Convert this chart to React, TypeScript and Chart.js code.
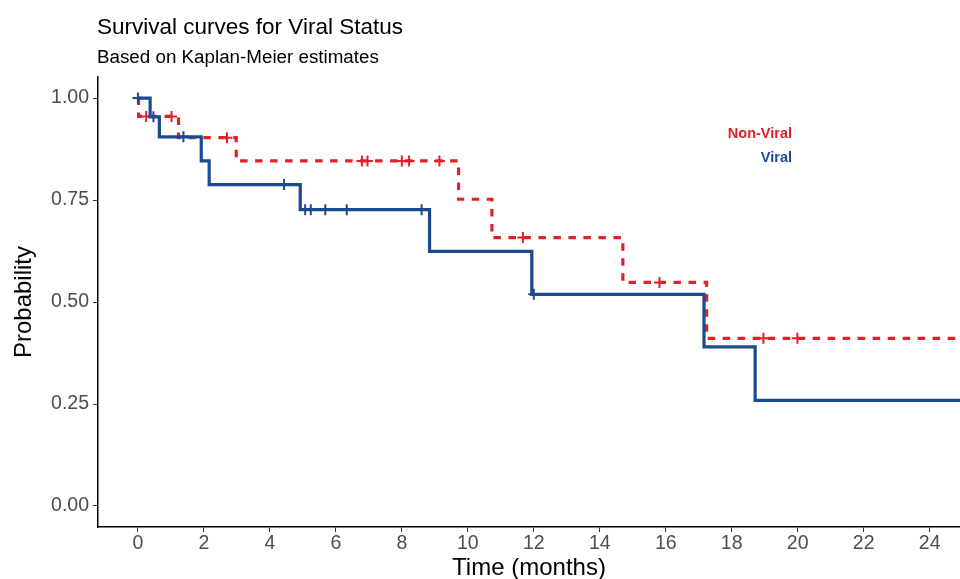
import React, { useEffect, useRef } from "react";
import { Chart, registerables } from "chart.js";

Chart.register(...registerables);

// ---- Data ----
const viralTimes = [0, 0.37, 0.65, 1.92, 2.16, 4.92, 8.84, 11.94, 17.16, 18.71, 25.6];
const viralSurv = [1.0, 0.954, 0.905, 0.846, 0.788, 0.7265, 0.624, 0.519, 0.39, 0.259, 0.259];
const viralCensorTimes = [0, 0.47, 1.38, 4.43, 5.07, 5.24, 5.68, 6.33, 8.6, 12.0];
const viralCensorSurv = [1.0, 0.954, 0.905, 0.788, 0.7265, 0.7265, 0.7265, 0.7265, 0.7265, 0.519];

const nonViralTimes = [0, 0.02, 1.23, 2.98, 9.72, 10.73, 14.7, 17.24, 25.6];
const nonViralSurv = [1.0, 0.955, 0.903, 0.846, 0.752, 0.658, 0.548, 0.411, 0.411];
const nonViralCensorTimes = [0.25, 1.02, 2.7, 6.79, 6.96, 8.0, 8.22, 9.14, 11.67, 15.81, 18.96, 19.99];
const nonViralCensorSurv = [0.955, 0.955, 0.903, 0.846, 0.846, 0.846, 0.846, 0.846, 0.658, 0.548, 0.411, 0.411];

const xTickValues = [0, 2, 4, 6, 8, 10, 12, 14, 16, 18, 20, 22, 24];
const yTickValues = [0, 0.25, 0.5, 0.75, 1];
const yTickLabels = ["0.00", "0.25", "0.50", "0.75", "1.00"];

const X_MIN = -1.21;
const X_MAX = 24.92;
const Y_MIN = -0.0515;
const Y_MAX = 1.0517;

const BLUE = "#1B4A8E";
const RED = "#E2202A";
const FONT = '"Liberation Sans", Arial, Helvetica, sans-serif';

const toPts = (xs: number[], ys: number[]) => xs.map((x, i) => ({ x, y: ys[i] }));

export default function App() {
  const ref = useRef<HTMLCanvasElement>(null);

  useEffect(() => {
    const canvas = ref.current;
    if (!canvas) return;
    Chart.defaults.font.family = FONT;
    const chart = new Chart(canvas, {
      type: "line",
      data: {
        datasets: [
          {
            label: "Viral censored",
            type: "scatter",
            data: toPts(viralCensorTimes, viralCensorSurv),
            showLine: false,
            pointStyle: "cross",
            pointRadius: 5.5,
            pointBorderWidth: 2,
            pointBorderColor: BLUE,
            borderColor: BLUE,
            backgroundColor: BLUE,
            order: 0,
          } as any,
          {
            label: "Non-Viral censored",
            type: "scatter",
            data: toPts(nonViralCensorTimes, nonViralCensorSurv),
            showLine: false,
            pointStyle: "cross",
            pointRadius: 5.5,
            pointBorderWidth: 2,
            pointBorderColor: RED,
            borderColor: RED,
            backgroundColor: RED,
            order: 1,
          } as any,
          {
            label: "Viral",
            data: toPts(viralTimes, viralSurv),
            stepped: "before",
            borderColor: BLUE,
            borderWidth: 3.2,
            pointRadius: 0,
            fill: false,
            borderJoinStyle: "miter",
            order: 2,
          },
          {
            label: "Non-Viral",
            data: toPts(nonViralTimes, nonViralSurv),
            stepped: "before",
            borderColor: RED,
            borderWidth: 3.2,
            borderDash: [7.5, 7.5],
            borderCapStyle: "butt",
            borderJoinStyle: "miter",
            pointRadius: 0,
            fill: false,
            order: 3,
          },
        ],
      },
      options: {
        animation: false,
        responsive: false,
        maintainAspectRatio: false,
        layout: { autoPadding: false, padding: { top: 77, left: 0, right: 0, bottom: 0 } },
        plugins: {
          legend: { display: false },
          tooltip: { enabled: false },
          title: { display: false },
        },
        scales: {
          x: {
            type: "linear",
            min: X_MIN,
            max: X_MAX,
            afterBuildTicks: (s: any) => {
              s.ticks = xTickValues.map((v) => ({ value: v }));
            },
            afterFit: (s: any) => {
              s.height = 52;
            },
            ticks: {
              autoSkip: false,
              maxRotation: 0,
              padding: 0,
              color: "#4d4d4d",
              font: { size: 19.5 },
              callback: (v: any) => String(v),
            },
            grid: {
              display: true,
              drawOnChartArea: false,
              drawTicks: true,
              tickLength: 5,
              color: "#333333",
              lineWidth: 1,
            },
            border: { display: true, color: "#000000", width: 1.5 },
            title: {
              display: true,
              text: "Time (months)",
              color: "#000000",
              font: { size: 24, lineHeight: 0.9 },
              padding: 0,
            },
          },
          y: {
            type: "linear",
            min: Y_MIN,
            max: Y_MAX,
            afterBuildTicks: (s: any) => {
              s.ticks = yTickValues.map((v) => ({ value: v }));
            },
            afterFit: (s: any) => {
              s.width = 98;
            },
            ticks: {
              autoSkip: false,
              padding: 4,
              color: "#4d4d4d",
              font: { size: 19.5 },
              callback: (v: any) => {
                const i = yTickValues.indexOf(Number(v));
                return i >= 0 ? yTickLabels[i] : "";
              },
            },
            grid: {
              display: true,
              drawOnChartArea: false,
              drawTicks: true,
              tickLength: 5,
              color: "#333333",
              lineWidth: 1,
            },
            border: { display: true, color: "#000000", width: 1.5 },
            title: {
              display: true,
              text: "Probability",
              color: "#000000",
              font: { size: 24 },
              padding: { top: 10, bottom: 0 },
            },
          },
        },
      },
    });
    return () => chart.destroy();
  }, []);

  const textBase: React.CSSProperties = {
    position: "absolute",
    fontFamily: FONT,
    lineHeight: 1,
    whiteSpace: "nowrap",
    margin: 0,
  };

  return (
    <div style={{ position: "fixed", left: 0, top: 0, width: 960, height: 579, background: "#ffffff", overflow: "hidden" }}>
      <canvas ref={ref} width={960} height={579} style={{ position: "absolute", left: 0, top: 0 }} />
      <div style={{ ...textBase, left: 97, top: 16, fontSize: 22.5, color: "#000" }}>Survival curves for Viral Status</div>
      <div style={{ ...textBase, left: 97, top: 48, fontSize: 18.8, color: "#000" }}>Based on Kaplan-Meier estimates</div>
      <div style={{ ...textBase, right: 168, top: 126, fontSize: 14.5, fontWeight: "bold", color: RED }}>Non-Viral</div>
      <div style={{ ...textBase, right: 168, top: 149.5, fontSize: 14.5, fontWeight: "bold", color: BLUE }}>Viral</div>
    </div>
  );
}
